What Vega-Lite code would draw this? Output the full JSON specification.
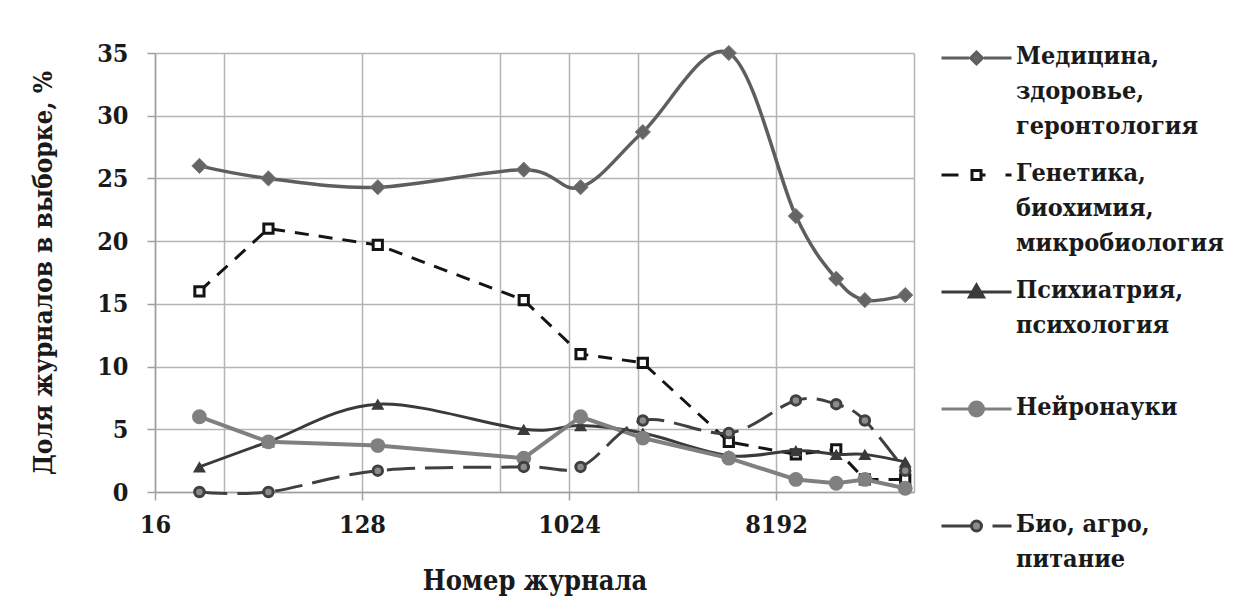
{
  "$schema": "https://vega.github.io/schema/vega-lite/v6.json",
  "width": 759,
  "height": 439,
  "autosize": {"type": "none"},
  "padding": {"left": 155, "top": 53, "right": 322, "bottom": 116},
  "background": "white",
  "config": {"view": {"stroke": null}, "font": "DejaVu Serif Condensed"},
  "data": {
    "values": [
      {"s": "Медицина,|здоровье,|геронтология", "i": 0, "n": 25, "v": 26},
      {"s": "Медицина,|здоровье,|геронтология", "i": 0, "n": 50, "v": 25},
      {"s": "Медицина,|здоровье,|геронтология", "i": 0, "n": 150, "v": 24.3},
      {"s": "Медицина,|здоровье,|геронтология", "i": 0, "n": 650, "v": 25.7},
      {"s": "Медицина,|здоровье,|геронтология", "i": 0, "n": 1150, "v": 24.3},
      {"s": "Медицина,|здоровье,|геронтология", "i": 0, "n": 2150, "v": 28.7},
      {"s": "Медицина,|здоровье,|геронтология", "i": 0, "n": 5100, "v": 35},
      {"s": "Медицина,|здоровье,|геронтология", "i": 0, "n": 10000, "v": 22},
      {"s": "Медицина,|здоровье,|геронтология", "i": 0, "n": 15000, "v": 17},
      {"s": "Медицина,|здоровье,|геронтология", "i": 0, "n": 20000, "v": 15.3},
      {"s": "Медицина,|здоровье,|геронтология", "i": 0, "n": 30000, "v": 15.7},
      {"s": "Генетика,|биохимия,|микробиология", "i": 1, "n": 25, "v": 16},
      {"s": "Генетика,|биохимия,|микробиология", "i": 1, "n": 50, "v": 21},
      {"s": "Генетика,|биохимия,|микробиология", "i": 1, "n": 150, "v": 19.7},
      {"s": "Генетика,|биохимия,|микробиология", "i": 1, "n": 650, "v": 15.3},
      {"s": "Генетика,|биохимия,|микробиология", "i": 1, "n": 1150, "v": 11},
      {"s": "Генетика,|биохимия,|микробиология", "i": 1, "n": 2150, "v": 10.3},
      {"s": "Генетика,|биохимия,|микробиология", "i": 1, "n": 5100, "v": 4},
      {"s": "Генетика,|биохимия,|микробиология", "i": 1, "n": 10000, "v": 3},
      {"s": "Генетика,|биохимия,|микробиология", "i": 1, "n": 15000, "v": 3.4},
      {"s": "Генетика,|биохимия,|микробиология", "i": 1, "n": 20000, "v": 1},
      {"s": "Генетика,|биохимия,|микробиология", "i": 1, "n": 30000, "v": 1},
      {"s": "Психиатрия,|психология", "i": 2, "n": 25, "v": 2},
      {"s": "Психиатрия,|психология", "i": 2, "n": 50, "v": 4},
      {"s": "Психиатрия,|психология", "i": 2, "n": 150, "v": 7},
      {"s": "Психиатрия,|психология", "i": 2, "n": 650, "v": 5},
      {"s": "Психиатрия,|психология", "i": 2, "n": 1150, "v": 5.3},
      {"s": "Психиатрия,|психология", "i": 2, "n": 2150, "v": 4.7},
      {"s": "Психиатрия,|психология", "i": 2, "n": 5100, "v": 2.9},
      {"s": "Психиатрия,|психология", "i": 2, "n": 10000, "v": 3.3},
      {"s": "Психиатрия,|психология", "i": 2, "n": 15000, "v": 3},
      {"s": "Психиатрия,|психология", "i": 2, "n": 20000, "v": 3},
      {"s": "Психиатрия,|психология", "i": 2, "n": 30000, "v": 2.4},
      {"s": "Нейронауки", "i": 3, "n": 25, "v": 6},
      {"s": "Нейронауки", "i": 3, "n": 50, "v": 4},
      {"s": "Нейронауки", "i": 3, "n": 150, "v": 3.7},
      {"s": "Нейронауки", "i": 3, "n": 650, "v": 2.7},
      {"s": "Нейронауки", "i": 3, "n": 1150, "v": 6},
      {"s": "Нейронауки", "i": 3, "n": 2150, "v": 4.3},
      {"s": "Нейронауки", "i": 3, "n": 5100, "v": 2.7},
      {"s": "Нейронауки", "i": 3, "n": 10000, "v": 1},
      {"s": "Нейронауки", "i": 3, "n": 15000, "v": 0.7},
      {"s": "Нейронауки", "i": 3, "n": 20000, "v": 1},
      {"s": "Нейронауки", "i": 3, "n": 30000, "v": 0.3},
      {"s": "Био, агро,|питание", "i": 4, "n": 25, "v": 0},
      {"s": "Био, агро,|питание", "i": 4, "n": 50, "v": 0},
      {"s": "Био, агро,|питание", "i": 4, "n": 150, "v": 1.7},
      {"s": "Био, агро,|питание", "i": 4, "n": 650, "v": 2},
      {"s": "Био, агро,|питание", "i": 4, "n": 1150, "v": 2},
      {"s": "Био, агро,|питание", "i": 4, "n": 2150, "v": 5.7},
      {"s": "Био, агро,|питание", "i": 4, "n": 5100, "v": 4.7},
      {"s": "Био, агро,|питание", "i": 4, "n": 10000, "v": 7.3},
      {"s": "Био, агро,|питание", "i": 4, "n": 15000, "v": 7},
      {"s": "Био, агро,|питание", "i": 4, "n": 20000, "v": 5.7},
      {"s": "Био, агро,|питание", "i": 4, "n": 30000, "v": 1.7}
    ]
  },
  "encoding": {
    "x": {
      "field": "n",
      "type": "quantitative",
      "title": "Номер журнала",
      "scale": {"type": "log", "base": 2, "domain": [16, 32768], "nice": false},
      "axis": {
        "values": [16, 32, 128, 512, 1024, 2048, 8192, 32768],
        "format": "d",
        "labelExpr": "indexof([16, 128, 1024, 8192], datum.value) >= 0 ? datum.label : ''",
        "labelOverlap": false,
        "labelFlush": false,
        "grid": true,
        "gridColor": "#b4b4b4",
        "gridWidth": 1.5,
        "domainColor": "#a0a0a0",
        "domainWidth": 1.5,
        "tickColor": "#a0a0a0",
        "tickWidth": 1.5,
        "tickSize": 8,
        "tickOpacity": {"condition": {"test": "indexof([16, 128, 1024, 8192], datum.value) >= 0", "value": 1}, "value": 0},
        "labelFont": "DejaVu Serif Condensed",
        "labelFontWeight": "bold",
        "labelFontSize": 25,
        "labelColor": "#1a1a1a",
        "labelPadding": 12,
        "titleFont": "DejaVu Serif Condensed",
        "titleFontWeight": "bold",
        "titleFontSize": 27,
        "titleColor": "#1a1a1a",
        "titlePadding": 31
      }
    },
    "y": {
      "field": "v",
      "type": "quantitative",
      "title": "Доля журналов в выборке, %",
      "scale": {"domain": [0, 35], "nice": false},
      "axis": {
        "values": [0, 5, 10, 15, 20, 25, 30, 35],
        "grid": true,
        "gridColor": "#b4b4b4",
        "gridWidth": 1.5,
        "domainColor": "#a0a0a0",
        "domainWidth": 1.5,
        "tickColor": "#a0a0a0",
        "tickWidth": 1.5,
        "tickSize": 8,
        "labelFont": "DejaVu Serif Condensed",
        "labelFontWeight": "bold",
        "labelFontSize": 25,
        "labelColor": "#1a1a1a",
        "labelPadding": 19,
        "titleFont": "DejaVu Serif Condensed",
        "titleFontWeight": "bold",
        "titleFontSize": 26,
        "titleColor": "#1a1a1a",
        "titlePadding": 40
      }
    }
  },
  "layer": [
    {
      "transform": [{"filter": "datum.i === 0"}],
      "mark": {"type": "line", "interpolate": "cardinal", "strokeWidth": 3.5},
      "encoding": {
        "stroke": {
          "field": "s",
          "type": "nominal",
          "scale": {
            "domain": ["Медицина,|здоровье,|геронтология", "Генетика,|биохимия,|микробиология", "Психиатрия,|психология", "Нейронауки", "Био, агро,|питание"],
            "range": ["#5e5e5e", "#141414", "#3a3a3a", "#808080", "#404040"]
          },
          "legend": {
            "orient": "none",
            "legendX": 788,
            "legendY": -7.5,
            "title": null,
            "padding": 0,
            "symbolSize": 400,
            "symbolStrokeWidth": 3,
            "symbolOffset": 21,
            "labelOffset": 27,
            "labelFont": "DejaVu Serif Condensed",
            "labelFontWeight": "bold",
            "labelFontSize": 25,
            "labelColor": "#1a1a1a",
            "labelLimit": 0,
            "labelBaseline": "top",
            "labelExpr": "split(datum.label, '|')",
            "gridAlign": "all",
            "rowPadding": 21,
            "encode": {
              "symbols": {
                "update": {
                  "shape": {"signal": "['M-3.5,0L-0.75,0M0.75,0L3.5,0M0,-0.6L0.6,0L0,0.6L-0.6,0Z', 'M-3.5,0L-1.8,0M-0.45,-0.45L0.45,-0.45L0.45,0.45L-0.45,0.45ZM0.45,0L0.9,0M2.9,0L3.5,0', 'M-3.5,0L3.5,0M0,-0.7L0.7,0.5L-0.7,0.5Z', 'M-3.5,0L3.5,0M-0.7,0A0.7,0.7 0 1,1 0.7,0A0.7,0.7 0 1,1 -0.7,0Z', 'M-3.5,0L-0.5,0M1.6,0L3.5,0M-0.5,0A0.5,0.5 0 1,1 0.5,0A0.5,0.5 0 1,1 -0.5,0Z'][datum.index]"},
                  "fill": {"signal": "['#666666', '#ffffff', '#3a3a3a', '#808080', '#8c8c8c'][datum.index]"},
                  "stroke": {"signal": "['#5e5e5e', '#141414', '#3a3a3a', '#808080', '#404040'][datum.index]"},
                  "strokeDash": {"value": []},
                  "opacity": {"value": 1}
                }
              },
              "labels": {"update": {"dy": {"value": -14}, "lineHeight": {"value": 35}}}
            }
          }
        }
      }
    },
    {
      "transform": [{"filter": "datum.i === 0"}],
      "mark": {"type": "point", "shape": "diamond", "filled": true, "size": 230, "fill": "#656565", "stroke": "#7a7a7a", "strokeWidth": 1, "opacity": 1}
    },
    {
      "transform": [{"filter": "datum.i === 1"}],
      "mark": {"type": "line", "strokeWidth": 3, "strokeDash": [14, 10]},
      "encoding": {"stroke": {"field": "s", "type": "nominal"}}
    },
    {
      "transform": [{"filter": "datum.i === 1"}],
      "mark": {"type": "point", "shape": "square", "filled": true, "size": 85, "fill": "#ffffff", "stroke": "#141414", "strokeWidth": 3, "opacity": 1}
    },
    {
      "transform": [{"filter": "datum.i === 2"}],
      "mark": {"type": "line", "interpolate": "cardinal", "strokeWidth": 3},
      "encoding": {"stroke": {"field": "s", "type": "nominal"}}
    },
    {
      "transform": [{"filter": "datum.i === 2"}],
      "mark": {"type": "point", "shape": "triangle-up", "filled": true, "size": 170, "fill": "#3a3a3a", "strokeWidth": 0, "opacity": 1}
    },
    {
      "transform": [{"filter": "datum.i === 3"}],
      "mark": {"type": "line", "strokeWidth": 4},
      "encoding": {"stroke": {"field": "s", "type": "nominal"}}
    },
    {
      "transform": [{"filter": "datum.i === 3"}],
      "mark": {"type": "point", "shape": "circle", "filled": true, "size": 220, "fill": "#808080", "strokeWidth": 0, "opacity": 1}
    },
    {
      "transform": [{"filter": "datum.i === 4"}],
      "mark": {"type": "line", "interpolate": "cardinal", "strokeWidth": 3, "strokeDash": [28, 10]},
      "encoding": {"stroke": {"field": "s", "type": "nominal"}}
    },
    {
      "transform": [{"filter": "datum.i === 4"}],
      "mark": {"type": "point", "shape": "circle", "filled": true, "size": 90, "fill": "#8c8c8c", "stroke": "#404040", "strokeWidth": 3, "opacity": 1}
    }
  ]
}
